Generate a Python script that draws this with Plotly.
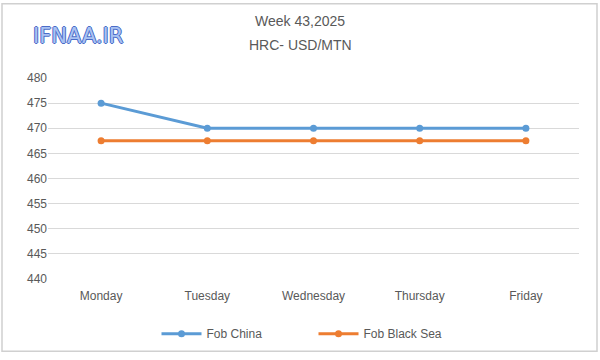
import plotly.graph_objects as go

days = ["Monday", "Tuesday", "Wednesday", "Thursday", "Friday"]
fob_china = [475, 470, 470, 470, 470]
fob_black_sea = [467.5, 467.5, 467.5, 467.5, 467.5]
y_ticks = [440, 445, 450, 455, 460, 465, 470, 475, 480]

FONT = "Liberation Sans"
GRAY = "#595959"

fig = go.Figure()
fig.add_trace(go.Scatter(x=days, y=fob_china, name="Fob China", mode="lines+markers",
                         line=dict(color="#5B9BD5", width=3), marker=dict(size=7, color="#5B9BD5")))
fig.add_trace(go.Scatter(x=days, y=fob_black_sea, name="Fob Black Sea", mode="lines+markers",
                         line=dict(color="#ED7D31", width=3), marker=dict(size=7, color="#ED7D31")))

L, R, T, B = 48, 21, 78, 76
W, H = 600, 360
pw, ph = W - L - R, H - T - B

def px(x):
    return (x - L) / pw

def py(y):
    return (H - B - y) / ph

outline = "#4a6cc8"
fig.update_layout(
    width=W, height=H,
    margin=dict(l=L, r=R, t=T, b=B),
    paper_bgcolor="white", plot_bgcolor="white",
    font=dict(family=FONT, size=12, color=GRAY),
    showlegend=True,
    legend=dict(orientation="h", x=0.5, xanchor="center", y=py(340), yanchor="middle",
                font=dict(size=12, color=GRAY), itemwidth=40, traceorder="normal",
                entrywidth=102, entrywidthmode="pixels"),
    xaxis=dict(showgrid=False, showline=False, ticks="", tickfont=dict(size=12, color=GRAY),
               range=[-0.5, 4.5], ticklabelstandoff=8),
    yaxis=dict(range=[440, 480], tickvals=y_ticks, showgrid=True, gridcolor="#d9d9d9",
               gridwidth=1, zeroline=False, showline=False, ticks="",
               tickfont=dict(size=12, color=GRAY)),
    shapes=[dict(type="rect", xref="paper", yref="paper",
                 x0=px(2), x1=px(597), y0=py(358), y1=py(2),
                 line=dict(color="#d0d0d0", width=1.5), fillcolor="rgba(0,0,0,0)")],
    annotations=[
        dict(text="Week 43,2025", xref="paper", yref="paper", x=px(300), y=py(20),
             xanchor="center", yanchor="middle",
             showarrow=False, font=dict(size=14, color=GRAY, family=FONT)),
        dict(text="HRC- USD/MTN", xref="paper", yref="paper", x=px(300), y=py(44),
             xanchor="center", yanchor="middle",
             showarrow=False, font=dict(size=14, color=GRAY, family=FONT)),
        dict(text="IFNAA.IR", xref="paper", yref="paper", x=px(78), y=py(35),
             xanchor="center", yanchor="middle",
             showarrow=False,
             font=dict(size=21, color="#a9c2f2", family="DejaVu Sans",
                       shadow=f"1px 0 0 {outline}, -1px 0 0 {outline}, 0 1px 0 {outline}, 0 -1px 0 {outline}")),
    ],
)

fig.write_html("out.html", post_script="document.body.style.margin='0';",
               config={"displayModeBar": False})
